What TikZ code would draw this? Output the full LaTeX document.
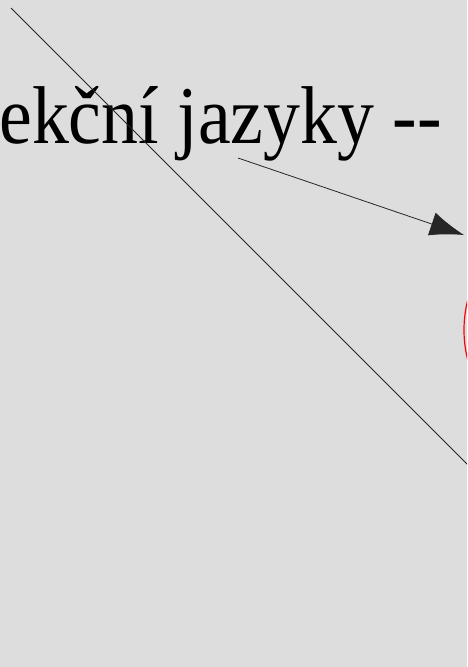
\documentclass[tikz,border=0pt]{standalone}
\usepackage{fontspec}
\setmainfont[Ligatures=NoCommon]{Liberation Serif}
\usetikzlibrary{arrows,arrows.meta}
\definecolor{bg}{RGB}{221,221,221}
\begin{document}
\begin{tikzpicture}
	[x=1pt,y=-1pt,thin line/.style={line width=0.8pt,black!85}, edge/.style={thin line,-{Latex[length=34pt,width=24pt]}}, ring/.style={draw=red,line width=1.2pt}]
	\useasboundingbox (0,0) rectangle (467,667);
	\clip (0,0) rectangle (467,667);
	\fill[bg] (0,0) rectangle (467,667);
	\node[anchor=base east,inner sep=0pt,xscale=0.9,font=\fontsize{82}{86}\selectfont] (title) at (442,143) {Selekční jazyky {-}{-}};
	\coordinate (a) at (11,8);
	\coordinate (b) at (520,517);
	\coordinate (from) at (238,158);
	\coordinate (to) at (464,235);
	
	\draw[thin line] (a) -- (b);
	\draw[edge] (from) to (to);
	\draw[ring] (584,330) circle[radius=120pt];
\end{tikzpicture}
\end{document}
